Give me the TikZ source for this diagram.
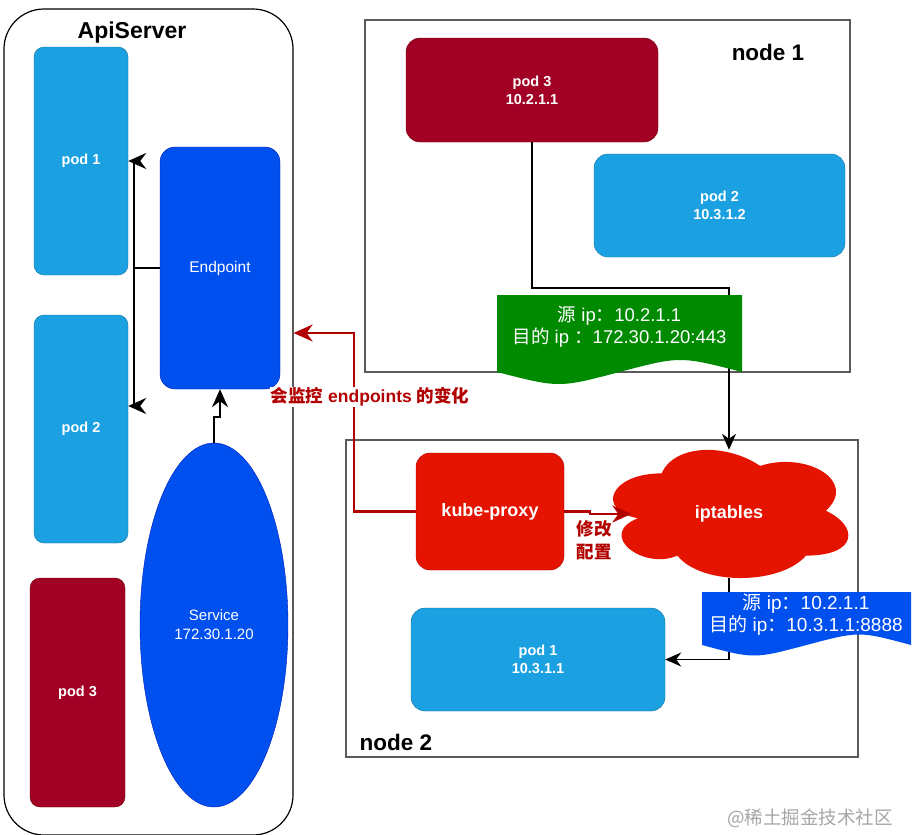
\documentclass[tikz,border=0pt]{standalone}
\usepackage{fontspec}
\setmainfont{Liberation Sans}
\newfontfamily\cjk{Noto Sans CJK SC}
\usetikzlibrary{shapes.geometric,arrows.meta}
\definecolor{lblue}{HTML}{1BA1E2}
\definecolor{lbluel}{HTML}{10739E}
\definecolor{dred}{HTML}{A20025}
\definecolor{dredl}{HTML}{6F0000}
\definecolor{dblue}{HTML}{0050EF}
\definecolor{dbluel}{HTML}{001DBC}
\definecolor{dgreen}{HTML}{008A00}
\definecolor{kred}{HTML}{E51400}
\definecolor{kredl}{HTML}{B20000}
\definecolor{frame}{HTML}{5A5A5A}
\newcommand\myfs[2]{\fontsize{#1}{#2}\selectfont}
\begin{document}
\begin{tikzpicture}[x=1pt,y=-1pt,
  pod/.style={rounded corners=10pt, text=white, align=center, inner sep=0pt, font=\myfs{14.5}{18}\bfseries},
  lb/.style={pod, fill=lblue, draw=lbluel},
  dr/.style={pod, fill=dred, draw=dredl},
  blk/.style={draw=black, line width=2.2pt, -{Stealth[length=18pt,width=16pt,inset=6pt]}},
  thin/.style={draw=black, line width=1.6pt, -{Stealth[length=16pt,width=14pt,inset=5pt]}},
  redarrow/.style={draw=kredl, line width=2.2pt, -{Stealth[length=19pt,width=17pt,inset=6pt]}},
  framebox/.style={draw=frame, line width=1.2pt, inner sep=0pt}]
\useasboundingbox (0,0) rectangle (914,835);
\fill[white] (0,0) rectangle (914,835);

% ApiServer
\node[draw=black, line width=1.2pt, rounded corners=40pt, minimum width=289pt, minimum height=826pt, inner sep=0pt] (api) at (148.5,422) {};
\node[font=\myfs{23}{26}\bfseries] (apit) at (132,33) {ApiServer};

\node[lb, minimum width=94pt, minimum height=228pt] (pod1) at (81,161) {pod 1};
\node[lb, minimum width=94pt, minimum height=228pt] (pod2) at (81,429) {pod 2};
\node[dr, minimum width=95pt, minimum height=229pt] (pod3) at (77.5,692.5) {pod 3};
\node[rounded corners=15pt, fill=dblue, draw=dbluel, text=white, minimum width=120pt, minimum height=242pt, font=\myfs{15.5}{18}] (ep) at (220,268) {Endpoint};
\node[ellipse, fill=dblue, draw=dbluel, text=white, minimum width=148pt, minimum height=364pt, inner sep=0pt, align=center, font=\myfs{15}{19}] (svc) at (214,625) {Service\\172.30.1.20};

\draw[blk] (ep.west) -- ++(-26,0) |- (pod1.east);
\draw[blk] (ep.west) -- ++(-26,0) |- ([yshift=23pt]pod2.east);
\draw[blk] (svc.north) -- ++(0,-26) -| (ep.south);

% node 1
\node[framebox, minimum width=485pt, minimum height=352pt] (n1) at (607.5,196) {};
\node[font=\myfs{22.5}{26}\bfseries] (n1t) at (768,52) {node 1};
\node[dr, rounded corners=14pt, minimum width=252pt, minimum height=104pt] (p3n1) at (532,90) {pod 3\\10.2.1.1};
\node[lb, rounded corners=14pt, minimum width=251pt, minimum height=103pt] (p2n1) at (719.5,205.5) {pod 2\\10.3.1.2};

% node 2
\node[framebox, minimum width=512pt, minimum height=317pt] (n2) at (602,598.5) {};
\node[font=\myfs{22.5}{26}\bfseries] (n2t) at (396,742) {node 2};
\node[rounded corners=14pt, fill=kred, draw=kredl, text=white, minimum width=148pt, minimum height=117pt, font=\myfs{18}{21}\bfseries] (kp) at (490,511.5) {kube-proxy};
% cloud (draw.io cloud outline)
\begin{scope}[shift={(596,436)}, x=262.6pt, y=-149.5pt]
\fill[kred] (0.25,0.25) .. controls (0.05,0.25) and (0,0.5) .. (0.16,0.55)
  .. controls (0,0.66) and (0.18,0.9) .. (0.31,0.8)
  .. controls (0.4,1) and (0.7,1) .. (0.8,0.8)
  .. controls (1,0.8) and (1,0.6) .. (0.875,0.5)
  .. controls (1,0.3) and (0.8,0.1) .. (0.625,0.2)
  .. controls (0.5,0.05) and (0.3,0.05) .. (0.25,0.25) -- cycle;
\end{scope}
\node[text=white, inner sep=0pt, minimum width=235pt, minimum height=128pt, font=\myfs{18}{21}\bfseries] (cloud) at (729,514) {iptables};
\node[lb, rounded corners=14pt, minimum width=254pt, minimum height=103pt] (p1n2) at (538,659.5) {pod 1\\10.3.1.1};

% connectors
\draw[thin] (p3n1.south) -- ++(0,146) -| (cloud.north);
\draw[thin] (cloud.south) |- (p1n2.east);
\draw[redarrow] (kp.west) -- ++(-62,0) |- ([yshift=89pt]api.east);
\draw[redarrow] (kp.east) -- ++(26,0) |- ([xshift=20pt]cloud.west);
\node[fill=white, inner sep=1pt, text=kredl, font=\myfs{17.5}{20}\bfseries] (lbl) at (370,397) {{\cjk 会监控} endpoints {\cjk 的变化}};
\node[text=kredl, align=center, font=\myfs{17.5}{23}\bfseries\cjk] (lbl2) at (594,540) {修改\\配置};

% documents
\fill[dgreen] (497,295) -- (742,295) -- (742,372) .. controls (680,356) .. (619.5,372) .. controls (559,388) .. (497,372) -- cycle;
\node[text=white, align=center, font=\myfs{18.5}{22}] (gdoc) at (619.5,327) {{\cjk 源} ip{\cjk ：}10.2.1.1\\{\cjk 目的} ip {\cjk ：}172.30.1.20:443};
\fill[dblue] (702,592) -- (911,592) -- (911,645) .. controls (859,631) .. (806.5,645) .. controls (754,659) .. (702,645) -- cycle;
\node[text=white, align=center, font=\myfs{19}{22}] (bdoc) at (806,615) {{\cjk 源} ip{\cjk ：}10.2.1.1\\{\cjk 目的} ip{\cjk ：}10.3.1.1:8888};

\node[text=black!35, font=\myfs{18.5}{20}\cjk] (wm) at (810,818) {@稀土掘金技术社区};
\end{tikzpicture}
\end{document}
